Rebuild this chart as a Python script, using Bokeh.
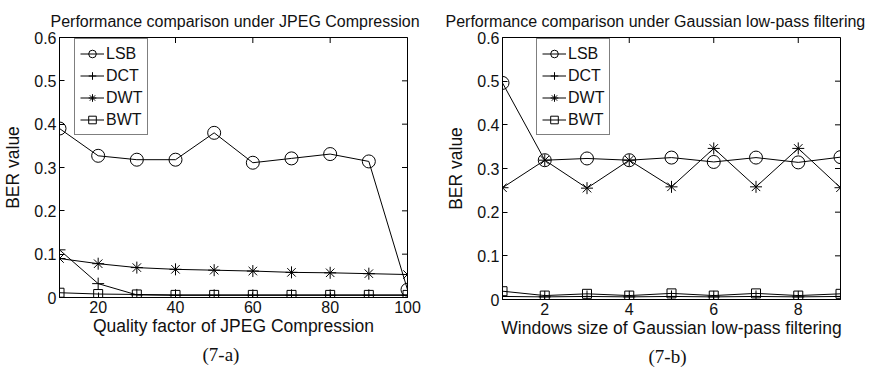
import math

from bokeh.plotting import figure
from bokeh.models import Range1d, FixedTicker, Legend, LegendItem, Title
from bokeh.layouts import row
from bokeh.embed import file_html
from bokeh.resources import INLINE

# ---- data -------------------------------------------------------------
methods = ["LSB", "DCT", "DWT", "BWT"]

quality = [10, 20, 30, 40, 50, 60, 70, 80, 90, 100]
jpeg_lsb = [0.390, 0.327, 0.318, 0.318, 0.380, 0.311, 0.321, 0.331, 0.314, 0.018]
jpeg_dct = [0.110, 0.032, 0.006, 0.005, 0.005, 0.005, 0.005, 0.005, 0.005, 0.005]
jpeg_dwt = [0.090, 0.078, 0.069, 0.065, 0.063, 0.061, 0.058, 0.057, 0.055, 0.053]
jpeg_bwt = [0.011, 0.008, 0.007, 0.006, 0.006, 0.006, 0.006, 0.006, 0.006, 0.006]

window = [1, 2, 3, 4, 5, 6, 7, 8, 9]
gauss_lsb = [0.496, 0.319, 0.323, 0.319, 0.325, 0.315, 0.325, 0.314, 0.326]
gauss_dct = [0.007, 0.006, 0.007, 0.006, 0.007, 0.006, 0.007, 0.006, 0.007]
gauss_dwt = [0.256, 0.319, 0.255, 0.319, 0.258, 0.346, 0.258, 0.346, 0.256]
gauss_bwt = [0.019, 0.009, 0.013, 0.009, 0.014, 0.009, 0.014, 0.009, 0.013]

y_ticks = [0, 0.1, 0.2, 0.3, 0.4, 0.5, 0.6]
y_tick_labels = ["0", "0.1", "0.2", "0.3", "0.4", "0.5", "0.6"]
jpeg_ticks = [20, 40, 60, 80, 100]
gauss_ticks = [2, 4, 6, 8]

# ---- styling ----------------------------------------------------------
SANS = "Liberation Sans"
SERIF = "Liberation Serif"
INK = "#111111"
marker_of = {"LSB": "circle", "DCT": "cross", "DWT": "asterisk", "BWT": "square"}
size_of = {"LSB": 13, "DCT": 12, "DWT": 12, "BWT": 9}
Y_MIN, Y_MAX = 0, 0.6


def style_axis(axis, ticks):
    axis.ticker = FixedTicker(ticks=ticks)
    axis.major_tick_in = 5
    axis.major_tick_out = 0
    axis.minor_tick_line_color = None
    axis.axis_line_color = "black"
    axis.major_tick_line_color = "black"
    axis.major_label_text_font = SANS
    axis.major_label_text_font_size = "16px"
    axis.major_label_text_color = INK
    axis.axis_label_text_font = SANS
    axis.axis_label_text_font_size = "17.5px"
    axis.axis_label_text_font_style = "normal"
    axis.axis_label_text_color = INK


def panel(xs, series, x_range, x_ticks, title, xlabel, caption,
          frame, borders, title_offset, caption_offset, legend_xy):
    left, right, top, bottom = borders
    p = figure(frame_width=frame[0], frame_height=frame[1],
               min_border_left=left, min_border_right=right,
               min_border_top=top, min_border_bottom=bottom,
               x_range=Range1d(*x_range), y_range=Range1d(Y_MIN, Y_MAX),
               output_backend="svg", toolbar_location=None,
               x_axis_label=xlabel, y_axis_label="BER value")
    p.grid.visible = False
    p.outline_line_color = "black"
    p.outline_line_alpha = 1
    p.background_fill_color = "white"
    p.border_fill_color = "white"

    style_axis(p.xaxis[0], x_ticks)
    style_axis(p.yaxis[0], y_ticks)
    p.yaxis[0].major_label_overrides = dict(zip(y_ticks, y_tick_labels))
    p.xaxis[0].major_label_standoff = 3
    p.yaxis[0].major_label_standoff = 3
    p.xaxis[0].axis_label_standoff = 0
    p.yaxis[0].axis_label_standoff = 8

    # inward tick marks on the top and right edges of the box: dashes centred
    # on the edge, half of each is clipped away by the frame
    p.scatter(x_ticks, [Y_MAX] * len(x_ticks), marker="dash", size=11,
              angle=math.pi / 2, line_color="black", line_width=1)
    p.scatter([x_range[1]] * len(y_ticks), y_ticks, marker="dash", size=11,
              line_color="black", line_width=1)

    items = []
    for name, ys in zip(methods, series):
        ln = p.line(xs, ys, line_color="black", line_width=1)
        mk = p.scatter(xs, ys, marker=marker_of[name], size=size_of[name],
                       line_color="black", fill_color=None, line_width=1)
        items.append(LegendItem(label=name, renderers=[ln, mk]))

    legend = Legend(items=items, location=legend_xy,
                    padding=5, spacing=3, margin=0,
                    glyph_width=24, glyph_height=19, label_height=19,
                    label_standoff=2,
                    label_text_font=SANS, label_text_font_size="16px",
                    label_text_color=INK,
                    border_line_color="black", border_line_width=1,
                    background_fill_color="white", background_fill_alpha=1)
    p.add_layout(legend, "center")

    p.add_layout(Title(text=title, align="left", offset=title_offset,
                       standoff=16,
                       text_font=SANS, text_font_size="16px",
                       text_font_style="normal", text_color=INK), "above")
    p.add_layout(Title(text=caption, align="left", offset=caption_offset,
                       standoff=6,
                       text_font=SERIF, text_font_size="19px",
                       text_font_style="normal", text_color=INK), "below")
    return p


left_plot = panel(quality, [jpeg_lsb, jpeg_dct, jpeg_dwt, jpeg_bwt],
                  (10, 100), jpeg_ticks,
                  "Performance comparison under JPEG Compression",
                  "Quality factor of JPEG Compression", "(7-a)",
                  frame=(348, 260), borders=(57, 34, 37, 71),
                  title_offset=-9, caption_offset=143, legend_xy=(15, 162))

right_plot = panel(window, [gauss_lsb, gauss_dct, gauss_dwt, gauss_bwt],
                   (1, 9), gauss_ticks,
                   "Performance comparison under Gaussian low-pass filtering",
                   "Windows size of Gaussian low-pass filtering", "(7-b)",
                   frame=(338, 262), borders=(61, 40, 37, 69),
                   title_offset=-57, caption_offset=146, legend_xy=(34, 164))

layout = row(left_plot, right_plot)
open("out.html", "w").write(file_html(layout, INLINE))
